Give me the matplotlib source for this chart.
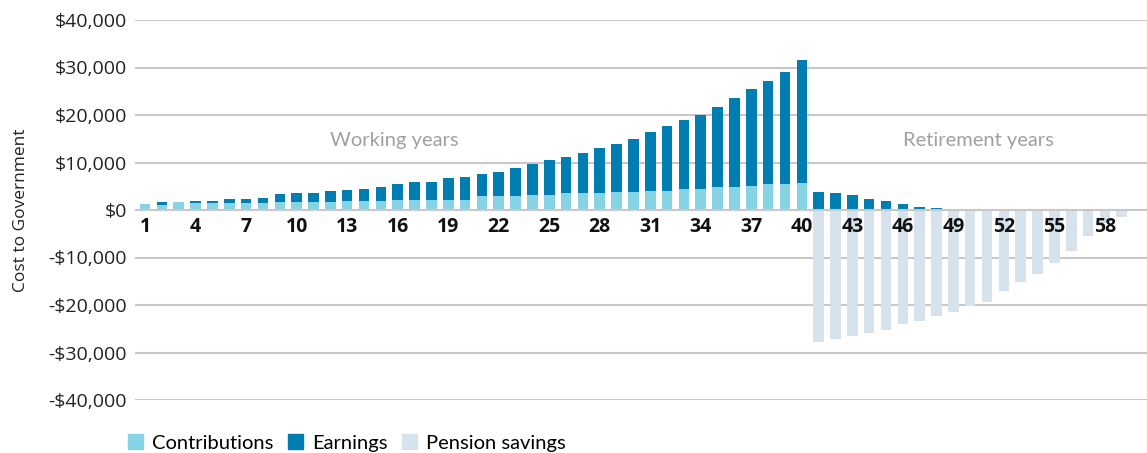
import matplotlib
matplotlib.use('Agg')
import matplotlib.pyplot as plt
import numpy as np
from matplotlib.patches import Patch
from matplotlib.ticker import FuncFormatter

# year index, 1..59
years = list(range(1, 60))

# dollars
contributions = [1300, 1000, 1700, 1400, 1400, 1400, 1400, 1400, 1700, 1700,
                 1700, 1700, 1900, 1900, 1900, 2200, 2200, 2200, 2200, 2200,
                 2900, 2900, 2900, 3200, 3200, 3500, 3500, 3500, 3800, 3800,
                 4100, 4100, 4400, 4400, 4800, 4800, 5000, 5400, 5400, 5700] + [0] * 19
earnings = [0, 700, 0, 600, 600, 900, 900, 1200, 1600, 1900,
            1900, 2200, 2300, 2600, 2900, 3200, 3600, 3800, 4500, 4700,
            4600, 5200, 5900, 6500, 7400, 7700, 8600, 9600, 10200, 11200,
            12400, 13600, 14500, 15700, 16900, 18700, 20400, 21800, 23700, 25800,
            3800, 3500, 3200, 2300, 2000, 1300, 700, 400] + [0] * 11
pension_savings = [0] * 40 + [-27800, -27200, -26500, -25900, -25300, -24000, -23400,
                              -22400, -21500, -20200, -19400, -17100, -15200, -13400,
                              -11200, -8600, -5500, -2700, -1500]

series_names = ['Contributions', 'Earnings', 'Pension savings']
yticks = [-40000, -30000, -20000, -10000, 0, 10000, 20000, 30000, 40000]
xticks = list(range(1, 59, 3))

C_CONTRIB = '#86d3e3'
C_EARN = '#007db1'
C_PENSION = '#d6e2ec'
GRID = '#c8c8c8'
FONT = ['Open Sans', 'DejaVu Sans']

fig = plt.figure(figsize=(11.47, 4.53), dpi=100)
ax = fig.add_axes([135 / 1147, 53 / 453, 1 - 135 / 1147, 380 / 453])

w = 0.63
ax.bar(years, contributions, w, color=C_CONTRIB, zorder=2)
ax.bar(years, earnings, w, bottom=contributions, color=C_EARN, zorder=2)
ax.bar(years, pension_savings, w, color=C_PENSION, zorder=2)

ax.set_ylim(-40000, 40000)
ax.set_xlim(0.4, 60.5)
ax.set_yticks(yticks)
ax.yaxis.set_major_formatter(FuncFormatter(
    lambda v, p: ('-$' if v < 0 else '$') + f'{abs(int(v)):,}'))
for v in yticks:
    ax.axhline(v, color=GRID, lw=1.5, zorder=1 if v != 0 else 3)

for s in ax.spines.values():
    s.set_visible(False)
ax.spines['bottom'].set_position(('data', 0))
ax.set_xticks(xticks)
ax.set_xticklabels([str(x) for x in xticks], fontweight='bold', fontsize=14,
                   family=FONT, color='#111111')
ax.tick_params(axis='x', length=0, pad=5)
ax.tick_params(axis='y', length=0, pad=6, labelsize=14, labelcolor='#222222')
for lab in ax.get_yticklabels():
    lab.set_family(FONT)
ax.xaxis.set_zorder(5)

ax.set_ylabel('Cost to Government', fontsize=12.5, family=FONT, color='#222222')
ax.yaxis.set_label_coords(-0.105, 0.5)

ax.text(15.8, 14700, 'Working years', ha='center', va='center', fontsize=14.5,
        color='#a0a0a0', family='Lato')
ax.text(50.5, 14700, 'Retirement years', ha='center', va='center', fontsize=14.5,
        color='#a0a0a0', family='Lato')

handles = [Patch(color=c) for c in (C_CONTRIB, C_EARN, C_PENSION)]
fig.legend(handles, series_names, loc='lower left', bbox_to_anchor=(0.096, -0.037),
           ncol=3, frameon=False, handlelength=0.75, handleheight=0.75,
           handletextpad=0.45, columnspacing=0.7, prop={'family': 'Lato', 'size': 14.5})

fig.savefig('out.png', dpi=100)
